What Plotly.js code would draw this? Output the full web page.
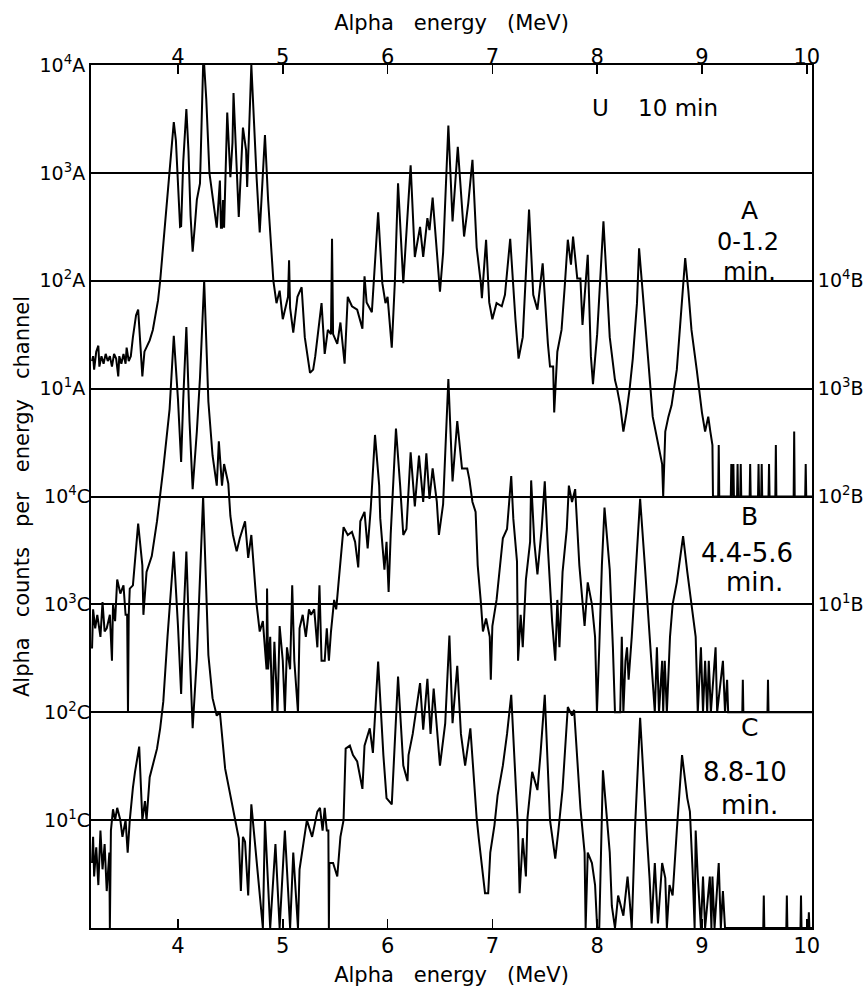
<!DOCTYPE html>
<html><head><meta charset="utf-8">
<script src="https://cdn.plot.ly/plotly-3.0.1.min.js"></script>
<style>html,body{margin:0;padding:0;background:#fff}#chart{width:867px;height:1000px}</style>
</head><body><div id="chart"></div>
<script>
// ---- tick values / labels ----
const energyTicks = [4, 5, 6, 7, 8, 9, 10];
const energyTickText = ["4", "5", "6", "7", "8", "9", "10"];
const decadeTicks = [10, 100, 1000, 10000];
const labelsA = ["10<sup>1</sup>A", "10<sup>2</sup>A", "10<sup>3</sup>A", "10<sup>4</sup>A"];
const labelsB = ["10<sup>1</sup>B", "10<sup>2</sup>B", "10<sup>3</sup>B", "10<sup>4</sup>B"];
const labelsC = ["10<sup>1</sup>C", "10<sup>2</sup>C", "10<sup>3</sup>C", "10<sup>4</sup>C"];
const xTitle = "Alpha\u00a0\u00a0\u00a0energy\u00a0\u00a0\u00a0(MeV)";
const yTitle = "Alpha\u00a0\u00a0\u00a0counts\u00a0\u00a0\u00a0per\u00a0\u00a0\u00a0energy\u00a0\u00a0\u00a0channel";
const panelLabels = ["U\u00a0\u00a0\u00a0\u00a010 min", "A", "0-1.2", "min.", "B", "4.4-5.6", "min.", "C", "8.8-10", "min."];

// ---- spectrum A (0-1.2 min) ----
const energyA = [3.18,3.19,3.20,3.22,3.24,3.25,3.27,3.29,3.31,3.33,3.35,3.37,3.39,3.41,3.43,3.44,3.46,3.48,3.50,3.51,3.53,3.55,3.57,3.60,3.62,3.64,3.66,3.68,3.70,3.73,3.76,3.78,3.81,3.83,3.86,3.89,3.92,3.94,3.96,3.98,4.00,4.02,4.03,4.05,4.08,4.10,4.12,4.14,4.16,4.18,4.21,4.23,4.24,4.25,4.27,4.30,4.35,4.37,4.40,4.41,4.42,4.43,4.44,4.47,4.50,4.52,4.53,4.58,4.62,4.65,4.66,4.70,4.75,4.78,4.83,4.86,4.91,4.94,4.97,5.00,5.05,5.06,5.07,5.10,5.14,5.18,5.21,5.26,5.29,5.31,5.37,5.40,5.43,5.46,5.47,5.48,5.52,5.55,5.59,5.62,5.66,5.71,5.76,5.78,5.80,5.85,5.91,5.95,5.98,6.00,6.04,6.07,6.10,6.15,6.22,6.26,6.31,6.34,6.38,6.40,6.43,6.47,6.50,6.53,6.58,6.62,6.67,6.73,6.77,6.81,6.85,6.89,6.90,6.94,6.97,7.00,7.04,7.09,7.12,7.17,7.20,7.22,7.25,7.29,7.35,7.39,7.43,7.48,7.53,7.55,7.58,7.59,7.62,7.66,7.69,7.72,7.75,7.77,7.81,7.84,7.86,7.91,7.94,7.96,7.98,8.00,8.06,8.12,8.17,8.19,8.22,8.25,8.28,8.31,8.34,8.38,8.40,8.44,8.49,8.53,8.58,8.62,8.63,8.65,8.68,8.71,8.76,8.84,8.87,8.90,8.95,9.00,9.03,9.06,9.08,9.10,9.105,9.155,9.16,9.165,9.275,9.28,9.285,9.30,9.305,9.335,9.34,9.345,9.365,9.37,9.375,9.455,9.46,9.465,9.535,9.54,9.545,9.565,9.57,9.575,9.635,9.64,9.645,9.70,9.705,9.71,9.875,9.88,9.885,9.985,9.99,9.995,10.05];
const countsA = [18,20,15,22,25,16,20,17,21,18,20,16,21,19,13,20,17,21,17,24,18,20,30,48,54,28,13,22,24,28,35,44,66,100,224,500,1000,2000,2950,2000,800,316,320,1260,3900,1600,400,186,316,562,800,4000,10000,10000,4800,1000,430,310,850,310,310,560,310,3630,910,1900,5500,390,2630,1620,740,10000,910,280,2240,560,100,62,81,44,71,155,56,33,71,87,30,14,15,20,62,21,35,32,245,32,26,41,17,71,58,54,36,110,63,51,430,95,62,71,24,100,800,95,1175,166,316,166,380,295,590,182,79,182,2750,355,1740,257,525,1320,204,95,69,240,63,44,62,58,74,245,79,44,19,30,457,74,54,145,26,16,16,6,22,35,87,240,141,257,105,105,39,174,20,11,19,32,355,30,12,10,7,4,6,10,19,62,200,62,17,5.5,3,2,1,4,5.5,7,15,162,81,35,15,6,4,5.5,4,3,1,1,3,1,1,2,1,2,1,1,2,1,1,2,1,1,2,1,1,2,1,1,2,1,1,2,1,1,3,1,1,4,1,1,2,1,1];

// ---- spectrum B (4.4-5.6 min) ----
const energyB = [3.18,3.19,3.21,3.23,3.26,3.28,3.30,3.32,3.35,3.37,3.38,3.40,3.42,3.45,3.48,3.50,3.515,3.523,3.53,3.54,3.57,3.61,3.62,3.66,3.67,3.70,3.75,3.80,3.83,3.86,3.92,3.96,4.00,4.03,4.05,4.08,4.11,4.14,4.18,4.21,4.25,4.29,4.33,4.37,4.39,4.42,4.44,4.48,4.50,4.525,4.56,4.59,4.64,4.67,4.70,4.72,4.75,4.78,4.81,4.845,4.85,4.86,4.88,4.90,4.92,4.95,4.97,5.00,5.02,5.04,5.07,5.09,5.11,5.145,5.16,5.19,5.22,5.25,5.27,5.30,5.33,5.35,5.37,5.40,5.42,5.44,5.46,5.49,5.51,5.53,5.56,5.58,5.62,5.66,5.69,5.72,5.74,5.78,5.81,5.84,5.88,5.92,5.93,5.97,5.99,6.01,6.03,6.08,6.12,6.15,6.18,6.22,6.26,6.30,6.34,6.37,6.40,6.43,6.47,6.49,6.53,6.58,6.62,6.665,6.71,6.76,6.78,6.81,6.84,6.86,6.89,6.91,6.94,6.975,6.985,7.00,7.04,7.07,7.10,7.14,7.18,7.20,7.235,7.245,7.27,7.29,7.32,7.36,7.37,7.40,7.43,7.47,7.50,7.53,7.57,7.60,7.62,7.64,7.67,7.71,7.73,7.76,7.79,7.83,7.88,7.91,7.95,7.98,7.998,8.02,8.045,8.07,8.12,8.15,8.17,8.22,8.235,8.25,8.27,8.285,8.30,8.33,8.36,8.41,8.455,8.50,8.53,8.55,8.57,8.59,8.62,8.63,8.645,8.665,8.695,8.72,8.76,8.82,8.86,8.90,8.94,8.96,8.99,9.01,9.03,9.05,9.065,9.085,9.13,9.145,9.20,9.22,9.24,9.25,9.385,9.39,9.395,9.625,9.63,9.635,10.05];
const countsB = [3.9,9,6,8,5,10.5,5.6,6,8,3,10,7,17,12.6,15,8,8,1,8,14,15,41,56,23,8,20,28,59,100,182,646,3090,794,209,794,3715,500,117,400,1260,10000,760,240,126,324,126,200,132,66,44,31,41,59,27,44,23,10,5.6,7,2.5,14,2.5,5,1,4.5,1,6.3,3,1,4,2.5,15,3,1,6,8,5,9,8,9,4,15,3,3,6,3,5.6,11,9,15,31,52,44,47,38,22,59,72,33,79,372,126,63,21,38,13,45,427,126,44,50,257,81,240,89,251,95,182,89,44,85,1230,138,500,182,182,145,89,72,23,10.5,5.6,7.4,5,2,6.3,11,21,41,50,155,62,25,3,8,4,17,38,141,38,19,50,138,33,7,3,11,4,20,50,126,89,117,23,6.3,16,10,5,1,4,23,79,21,4,1,1,5,1,3,4,2,5,14,95,23,5.6,2,1,4,1,3,1,3,1,5,10,16,43,20,10,5,1,4,1,3,1,3,1,4,1,3,1,2,1,1,2,1,1,2,1,1];

// ---- spectrum C (8.8-10 min) ----
const energyC = [3.18,3.19,3.20,3.22,3.24,3.26,3.28,3.30,3.32,3.34,3.345,3.35,3.36,3.38,3.40,3.42,3.45,3.47,3.50,3.52,3.54,3.57,3.59,3.63,3.66,3.685,3.70,3.73,3.80,3.83,3.86,3.90,3.96,4.00,4.03,4.05,4.08,4.11,4.14,4.18,4.21,4.24,4.29,4.33,4.37,4.40,4.45,4.50,4.54,4.58,4.60,4.62,4.64,4.67,4.70,4.75,4.78,4.81,4.83,4.88,4.93,4.97,5.02,5.07,5.10,5.145,5.16,5.23,5.28,5.33,5.355,5.38,5.40,5.42,5.435,5.44,5.445,5.48,5.52,5.55,5.58,5.60,5.64,5.67,5.71,5.76,5.78,5.83,5.86,5.91,5.96,5.99,6.04,6.07,6.10,6.15,6.19,6.20,6.24,6.31,6.34,6.38,6.41,6.44,6.50,6.55,6.59,6.62,6.665,6.70,6.74,6.79,6.82,6.85,6.87,6.90,6.93,6.96,6.98,7.02,7.05,7.10,7.14,7.18,7.22,7.245,7.26,7.29,7.32,7.335,7.38,7.43,7.46,7.50,7.55,7.60,7.63,7.67,7.72,7.76,7.78,7.81,7.84,7.88,7.89,7.91,7.95,7.98,8.00,8.02,8.055,8.12,8.14,8.17,8.20,8.25,8.29,8.31,8.33,8.36,8.41,8.475,8.50,8.52,8.55,8.58,8.62,8.65,8.665,8.69,8.72,8.76,8.81,8.86,8.885,8.91,8.93,8.94,8.96,8.99,9.01,9.03,9.075,9.09,9.10,9.12,9.16,9.18,9.20,9.22,9.585,9.59,9.595,9.805,9.81,9.815,9.94,9.945,9.95,10.015,10.02,10.025,10.05];
const countsC = [4,7,3,5.6,2.5,8,3.5,6,2.2,5,5,1,8,12.6,10,13,10,7,10,5,10,20,28,48,10,15,10,25,46,71,126,500,3090,630,148,630,3090,400,71,316,2000,10000,339,135,93,100,30,17,10.5,6.8,2.2,7,6.3,2,14,4,2.2,1,10,1,6,1,8,1,5,1,3.5,10,7,12,13,8,13,8,8,1,4,4,3,7,10,46,49,40,35,19.5,49,71,42,295,40,16,14,50,214,32,23,40,63,186,69,204,63,166,32,79,513,79,269,63,32,71,25,10.5,6.8,4,2.1,2.1,5,9,17,32,63,145,25,8,2.1,6.8,3,10.5,28,19,42,145,10,4.4,8,19.5,112,93,105,35,13,5,1,5,4,2.5,1,1,29,5,1.6,1,2,1.3,3,1.8,1,8,89,7,2.9,1.1,4,1.1,4,2.9,1,2.5,2,8,40,16,12,3.5,1,8,3,1,3,1,3,1,3,1,4,1,2.2,1,1,2,1,1,2,1,1,2,1,1,1.4,1,1];

const lineStyle = {color: "black", width: 2};
const traces = [
  {x: energyA, y: countsA, xaxis: "x", yaxis: "y", mode: "lines", line: lineStyle, name: "A", hoverinfo: "x+y"},
  {x: energyB, y: countsB, xaxis: "x", yaxis: "y2", mode: "lines", line: lineStyle, name: "B", hoverinfo: "x+y"},
  {x: energyC, y: countsC, xaxis: "x", yaxis: "y3", mode: "lines", line: lineStyle, name: "C", hoverinfo: "x+y"},
  {x: [], y: [], xaxis: "x2", yaxis: "y", mode: "lines", showlegend: false, hoverinfo: "skip"}
];

const FONT = "DejaVu Sans, Arial, sans-serif";
const xCommon = {
  range: [3.17, 10.05], tickvals: energyTicks, ticktext: energyTickText,
  ticks: "inside", ticklen: 9, tickwidth: 1.5, tickcolor: "black",
  showline: true, linewidth: 2, linecolor: "black", showgrid: false, zeroline: false,
  tickfont: {size: 21, family: FONT, color: "black"}
};
const yCommon = {
  type: "log", tickvals: decadeTicks, ticks: "", zeroline: false,
  gridcolor: "black", gridwidth: 2,
  tickfont: {size: 19, family: FONT, color: "black"}
};

// label positions (x in MeV, y as fraction of plot height, font size)
const labelPos = [[8.556,0.950,23],[9.458,0.831,25],[9.44,0.795,24],[9.458,0.760,24],[9.458,0.4774,25],[9.43,0.4345,26],[9.50,0.4009,26],[9.458,0.2329,25],[9.41,0.1808,26],[9.458,0.1425,26]];
const annotations = panelLabels.map((t, i) => ({
  text: t, xref: "x", yref: "paper", x: labelPos[i][0], y: labelPos[i][1],
  xanchor: "center", yanchor: "middle", showarrow: false,
  font: {size: labelPos[i][2], family: FONT, color: "black"}
}));

const layout = {
  width: 867, height: 1000,
  margin: {l: 91, r: 55, t: 65, b: 72, pad: 0},
  paper_bgcolor: "white", plot_bgcolor: "white", showlegend: false,
  font: {family: FONT, color: "black", size: 20},
  xaxis: Object.assign({}, xCommon, {anchor: "y", side: "bottom", ticklabelstandoff: -2,
    title: {text: xTitle, font: {size: 21, family: FONT}, standoff: 10}}),
  xaxis2: Object.assign({}, xCommon, {anchor: "y", side: "top", overlaying: "x", ticklabelstandoff: -9,
    title: {text: xTitle, font: {size: 21, family: FONT}, standoff: 8}}),
  yaxis: Object.assign({}, yCommon, {range: [-4, 4], ticktext: labelsA, side: "left", anchor: "x",
    showgrid: true, showline: true, linewidth: 2, linecolor: "black",
    title: {text: yTitle, font: {size: 21, family: FONT}, standoff: 4}}),
  yaxis2: Object.assign({}, yCommon, {range: [-2, 6], ticktext: labelsB, side: "right", anchor: "x",
    overlaying: "y", showgrid: false, showline: true, linewidth: 2, linecolor: "black"}),
  yaxis3: Object.assign({}, yCommon, {range: [0, 8], ticktext: labelsC, side: "left", anchor: "x",
    overlaying: "y", showgrid: true, showline: false}),
  annotations: annotations
};

Plotly.newPlot("chart", traces, layout, {displayModeBar: false, staticPlot: true});
</script>
</body></html>
